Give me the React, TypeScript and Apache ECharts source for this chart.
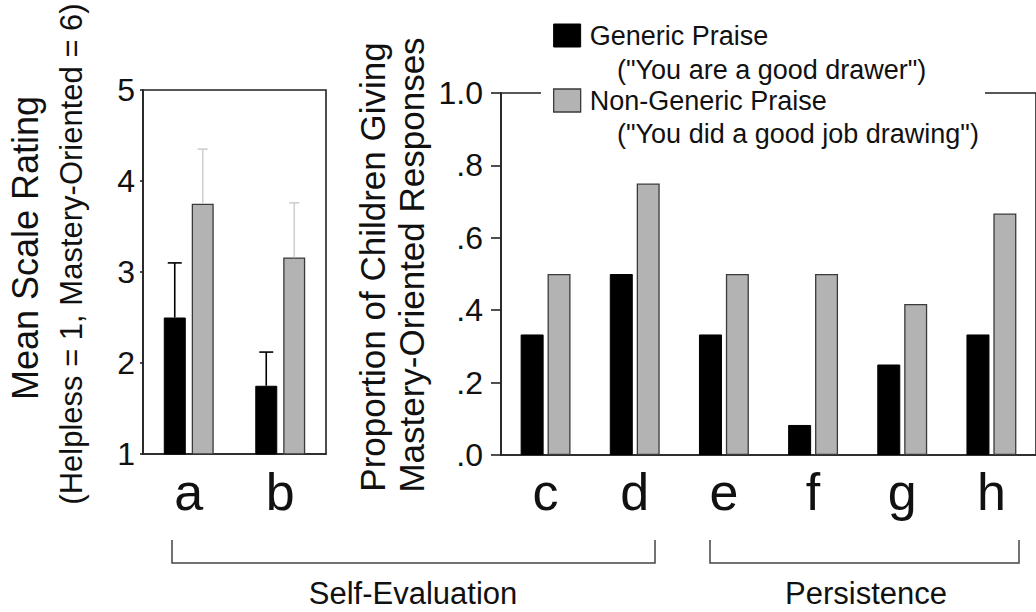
import React, { useEffect, useRef } from "react";
import * as echarts from "echarts";

// ---- Data ----
const selfEvalCategories = ["a", "b"];
const scaleGeneric = [2.5, 1.75];
const scaleGenericErrTop = [3.1, 2.12];
const scaleNonGeneric = [3.75, 3.16];
const scaleNonGenericErrTop = [4.35, 3.76];

const propCategories = ["c", "d", "e", "f", "g", "h"];
const propGeneric = [0.333, 0.5, 0.333, 0.083, 0.25, 0.333];
const propNonGeneric = [0.5, 0.75, 0.5, 0.5, 0.417, 0.667];

const seriesNames = ["Generic Praise", "Non-Generic Praise"];
const legendSubtitles = ['("You are a good drawer")', '("You did a good job drawing")'];
const groupLabels = ["Self-Evaluation", "Persistence"];
const leftTitle = ["Mean Scale Rating", "(Helpless = 1, Mastery-Oriented = 6)"];
const rightTitle = ["Proportion of Children Giving", "Mastery-Oriented Responses"];

const FONT = '"Liberation Sans", Arial, Helvetica, sans-serif';
const INK = "#111";
const AXIS = "#222";
const BLACK = "#000";
const GRAY = "#b3b3b3";
const GRAY_BORDER = "#3a3a3a";

export default function App() {
  const ref = useRef<HTMLDivElement>(null);

  useEffect(() => {
    if (!ref.current) return;
    const chart = echarts.init(ref.current, undefined, { renderer: "svg" });

    const errData = [
      ...scaleGeneric.map((v, i) => [i, v, scaleGenericErrTop[i], -1]),
      ...scaleNonGeneric.map((v, i) => [i, v, scaleNonGenericErrTop[i], 1]),
    ];

    const option: any = {
      animation: false,
      backgroundColor: "#fff",
      textStyle: { fontFamily: FONT },
      grid: [
        {
          left: 143, top: 90, width: 183, height: 364,
          show: true, borderColor: AXIS, borderWidth: 1.6, backgroundColor: "transparent",
        },
        {
          left: 501, top: 93, width: 546, height: 362,
          show: true, borderColor: AXIS, borderWidth: 1.6, backgroundColor: "transparent",
        },
      ],
      xAxis: [
        {
          type: "category", gridIndex: 0, data: selfEvalCategories,
          axisLine: { lineStyle: { color: AXIS, width: 1.6 } },
          axisTick: { alignWithLabel: true, length: 7, lineStyle: { color: AXIS, width: 1.6 } },
          axisLabel: { fontSize: 52, color: INK, margin: 12, fontFamily: FONT },
        },
        {
          type: "category", gridIndex: 1, data: propCategories,
          axisLine: { lineStyle: { color: AXIS, width: 1.6 } },
          axisTick: { alignWithLabel: true, length: 8, lineStyle: { color: AXIS, width: 1.6 } },
          axisLabel: { fontSize: 52, color: INK, margin: 11, fontFamily: FONT },
        },
      ],
      yAxis: [
        {
          type: "value", gridIndex: 0, min: 1, max: 5, interval: 1,
          axisLine: { show: true, lineStyle: { color: AXIS, width: 1.6 } },
          axisTick: { show: true, length: 3, lineStyle: { color: AXIS, width: 1.6 } },
          axisLabel: { fontSize: 32, color: INK, margin: 8, fontFamily: FONT },
          splitLine: { show: false },
        },
        {
          type: "value", gridIndex: 1, min: 0, max: 1, interval: 0.2,
          axisLine: { show: true, lineStyle: { color: AXIS, width: 1.6 } },
          axisTick: { show: true, length: 10, lineStyle: { color: AXIS, width: 1.6 } },
          axisLabel: {
            fontSize: 32, color: INK, margin: 18, fontFamily: FONT,
            formatter: (v: number) => (v >= 1 ? "1.0" : v.toFixed(1).replace(/^0/, "")),
          },
          splitLine: { show: false },
        },
      ],
      legend: {
        orient: "vertical",
        left: 553, top: 22,
        padding: 0,
        itemWidth: 27, itemHeight: 23, itemGap: 38,
        selectedMode: false,
        z: 10,
        icon: "rect",
        textStyle: { fontSize: 27, lineHeight: 27, color: INK, fontFamily: FONT, padding: [0, 0, 0, 4] },
        data: [
          { name: seriesNames[0], itemStyle: { color: BLACK, borderColor: BLACK, borderWidth: 1 } },
          { name: seriesNames[1], itemStyle: { color: GRAY, borderColor: GRAY_BORDER, borderWidth: 1.3 } },
        ],
      },
      series: [
        {
          name: seriesNames[0], type: "bar", xAxisIndex: 0, yAxisIndex: 0,
          data: scaleGeneric, barWidth: 22, barGap: "27%",
          itemStyle: { color: BLACK, borderColor: BLACK, borderWidth: 1 },
        },
        {
          name: seriesNames[1], type: "bar", xAxisIndex: 0, yAxisIndex: 0,
          data: scaleNonGeneric, barWidth: 22, barGap: "27%",
          itemStyle: { color: GRAY, borderColor: GRAY_BORDER, borderWidth: 1.3 },
        },
        {
          name: seriesNames[0], type: "bar", xAxisIndex: 1, yAxisIndex: 1,
          data: propGeneric, barWidth: 23, barGap: "17%",
          itemStyle: { color: BLACK, borderColor: BLACK, borderWidth: 1 },
        },
        {
          name: seriesNames[1], type: "bar", xAxisIndex: 1, yAxisIndex: 1,
          data: propNonGeneric, barWidth: 23, barGap: "17%",
          itemStyle: { color: GRAY, borderColor: GRAY_BORDER, borderWidth: 1.3 },
        },
        {
          name: "errors", type: "custom", xAxisIndex: 0, yAxisIndex: 0, z: 5,
          data: errData,
          renderItem: (params: any, api: any) => {
            const idx = api.value(0);
            const side = api.value(3);
            const p0 = api.coord([idx, api.value(1)]);
            const p1 = api.coord([idx, api.value(2)]);
            const cx = p0[0] + side * 14;
            const isGeneric = side < 0;
            const stroke = isGeneric ? "#000" : "#cfcfcf";
            const cap = isGeneric ? 14 : 10;
            return {
              type: "group",
              children: [
                { type: "line", shape: { x1: cx, y1: p0[1], x2: cx, y2: p1[1] }, style: { stroke, lineWidth: 1.6 } },
                { type: "line", shape: { x1: cx - cap / 2, y1: p1[1], x2: cx + cap / 2, y2: p1[1] }, style: { stroke, lineWidth: 1.6 } },
              ],
            };
          },
        },
      ],
      graphic: [
        // white panel behind legend, interrupting the top frame line
        { type: "rect", z: 5, shape: { x: 541, y: 15, width: 444, height: 135 }, style: { fill: "#fff" } },
        {
          type: "text", z: 11, x: 617, y: 70,
          style: { text: legendSubtitles[0], font: `27px ${FONT}`, lineHeight: 27, fill: INK, verticalAlign: "middle" },
        },
        {
          type: "text", z: 11, x: 617, y: 134,
          style: { text: legendSubtitles[1], font: `27px ${FONT}`, lineHeight: 27, fill: INK, verticalAlign: "middle" },
        },
        // left y titles
        {
          type: "text", x: 25, y: 248, rotation: Math.PI / 2,
          style: { text: leftTitle[0], font: `36px ${FONT}`, fill: INK, align: "center", verticalAlign: "middle" },
        },
        {
          type: "text", x: 71, y: 254, rotation: Math.PI / 2,
          style: { text: leftTitle[1], font: `31px ${FONT}`, fill: INK, align: "center", verticalAlign: "middle" },
        },
        // right y titles
        {
          type: "text", x: 372, y: 267, rotation: Math.PI / 2,
          style: { text: rightTitle[0], font: `35px ${FONT}`, fill: INK, align: "center", verticalAlign: "middle" },
        },
        {
          type: "text", x: 411, y: 265, rotation: Math.PI / 2,
          style: { text: rightTitle[1], font: `35px ${FONT}`, fill: INK, align: "center", verticalAlign: "middle" },
        },
        // brackets
        {
          type: "polyline",
          shape: { points: [[172, 540], [172, 563], [655, 563], [655, 540]] },
          style: { stroke: "#444", lineWidth: 1.5, fill: "none" },
        },
        {
          type: "polyline",
          shape: { points: [[710, 540], [710, 563], [1019, 563], [1019, 540]] },
          style: { stroke: "#444", lineWidth: 1.5, fill: "none" },
        },
        {
          type: "text", x: 413, y: 593,
          style: { text: groupLabels[0], font: `31px ${FONT}`, fill: INK, align: "center", verticalAlign: "middle" },
        },
        {
          type: "text", x: 866, y: 593,
          style: { text: groupLabels[1], font: `31px ${FONT}`, fill: INK, align: "center", verticalAlign: "middle" },
        },
      ],
    };

    chart.setOption(option);
    return () => chart.dispose();
  }, []);

  return (
    <div
      ref={ref}
      style={{ position: "fixed", left: 0, top: 0, width: 1036, height: 612, overflow: "hidden" }}
    />
  );
}
